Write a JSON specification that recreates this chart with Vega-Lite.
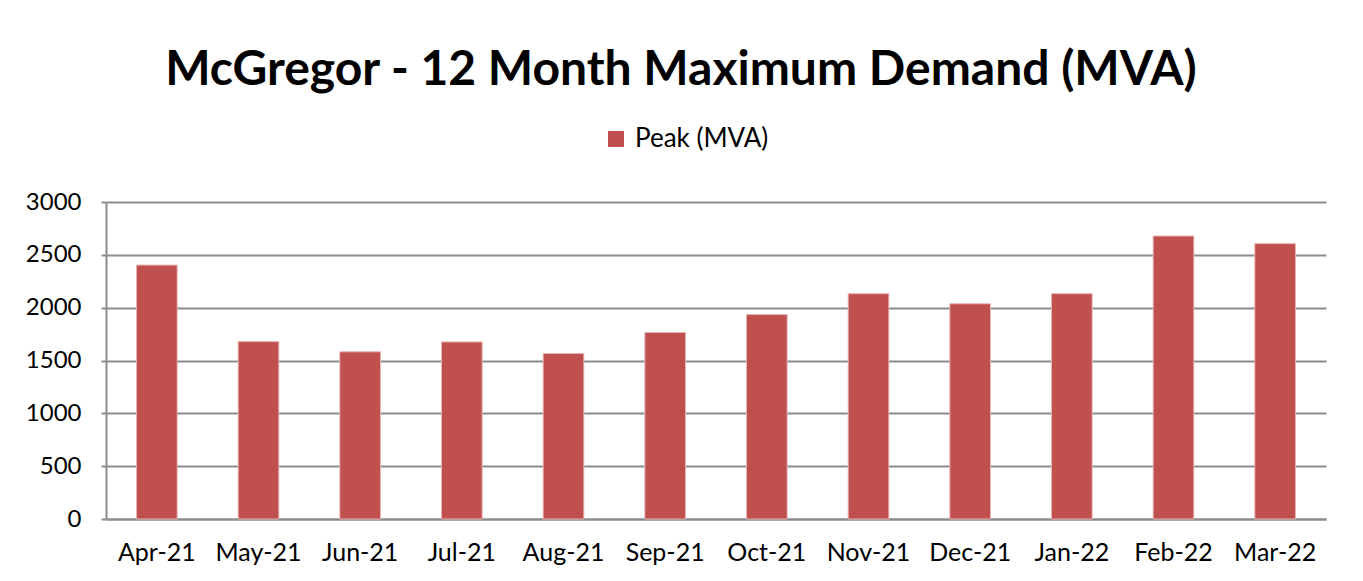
{
  "$schema": "https://vega.github.io/schema/vega-lite/v6.json",
  "width": 1220,
  "height": 317,
  "autosize": {"type": "none"},
  "padding": {"left": 106, "top": 202, "right": 37, "bottom": 62},
  "background": "white",
  "title": {
    "text": "McGregor - 12 Month Maximum Demand (MVA)",
    "font": "Lato",
    "fontSize": 48,
    "fontWeight": "bold",
    "color": "black",
    "anchor": "middle",
    "frame": "group",
    "dx": -35,
    "dy": -27
  },
  "data": {
    "values": [
      {"month": "Apr-21", "series": "Peak (MVA)", "value": 2403},
      {"month": "May-21", "series": "Peak (MVA)", "value": 1679},
      {"month": "Jun-21", "series": "Peak (MVA)", "value": 1582},
      {"month": "Jul-21", "series": "Peak (MVA)", "value": 1676},
      {"month": "Aug-21", "series": "Peak (MVA)", "value": 1566},
      {"month": "Sep-21", "series": "Peak (MVA)", "value": 1765},
      {"month": "Oct-21", "series": "Peak (MVA)", "value": 1935},
      {"month": "Nov-21", "series": "Peak (MVA)", "value": 2132},
      {"month": "Dec-21", "series": "Peak (MVA)", "value": 2037},
      {"month": "Jan-22", "series": "Peak (MVA)", "value": 2132},
      {"month": "Feb-22", "series": "Peak (MVA)", "value": 2678},
      {"month": "Mar-22", "series": "Peak (MVA)", "value": 2606}
    ]
  },
  "mark": {"type": "bar", "stroke": "#e8b4b3", "strokeWidth": 1},
  "encoding": {
    "x": {
      "field": "month",
      "type": "nominal",
      "sort": null,
      "scale": {"paddingInner": 0.6, "paddingOuter": 0.3},
      "axis": {
        "title": null,
        "labelAngle": 0,
        "ticks": false,
        "labelFont": "Lato",
        "labelFontSize": 25,
        "labelColor": "black",
        "labelPadding": 21,
        "domainColor": "#8c8c8c",
        "domainWidth": 2
      }
    },
    "y": {
      "field": "value",
      "type": "quantitative",
      "scale": {"domain": [0, 3000], "nice": false},
      "axis": {
        "title": null,
        "format": "d",
        "values": [0, 500, 1000, 1500, 2000, 2500, 3000],
        "labelFont": "Lato",
        "labelFontSize": 24,
        "labelColor": "black",
        "labelPadding": 20,
        "tickSize": 5,
        "tickColor": "#8c8c8c",
        "tickWidth": 2,
        "domainColor": "#8c8c8c",
        "domainWidth": 2,
        "gridColor": "#8c8c8c",
        "gridWidth": 2,
        "gridOpacity": 1
      }
    },
    "color": {
      "field": "series",
      "type": "nominal",
      "scale": {"range": ["#C0504D"]},
      "legend": {
        "title": null,
        "orient": "none",
        "legendX": 497,
        "legendY": -76,
        "symbolType": "square",
        "symbolSize": 256,
        "symbolStrokeWidth": 0,
        "labelFont": "Lato",
        "labelFontSize": 26,
        "labelColor": "black",
        "labelOffset": 6
      }
    }
  },
  "config": {"view": {"stroke": null}}
}
